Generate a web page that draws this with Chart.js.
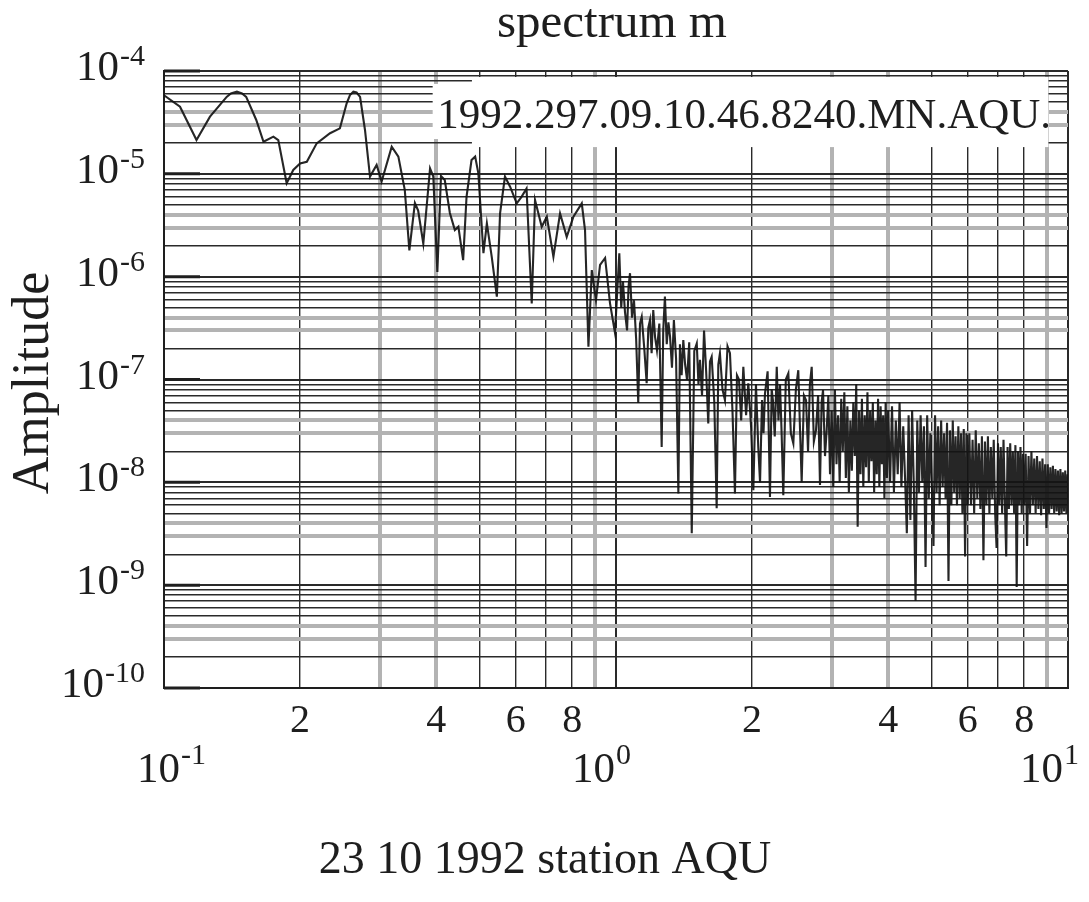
<!DOCTYPE html>
<html>
<head>
<meta charset="utf-8">
<title>spectrum m</title>
<script src="https://cdn.jsdelivr.net/npm/chart.js@4"></script>
<style>
  html, body { margin: 0; padding: 0; background: #fff; }
  canvas { display: block; }
</style>
</head>
<body>
<canvas id="chart" width="1089" height="902"></canvas>
<script>
'use strict';

// spectrum of the AQU record, 23 Oct 1992: frequency (Hz) and amplitude
let freqHz = [
  0.1, 0.1085, 0.118, 0.1264, 0.1376, 0.1406, 0.145, 0.1488, 0.152, 0.160, 0.166, 0.1746, 0.179,
  0.1868, 0.1932, 0.2, 0.207, 0.2177, 0.233, 0.245, 0.2536, 0.2579, 0.2624, 0.2667, 0.2715,
  0.2784, 0.2856, 0.2954, 0.303, 0.319, 0.33, 0.341, 0.349, 0.359, 0.365, 0.3747, 0.3878,
  0.3943, 0.4025, 0.41, 0.418, 0.429, 0.440, 0.448, 0.459, 0.467, 0.479, 0.488, 0.496,
  0.509, 0.518, 0.531, 0.545, 0.554, 0.568, 0.583, 0.603, 0.618, 0.634, 0.651, 0.662,
  0.685, 0.703, 0.727, 0.752, 0.778, 0.805, 0.840, 0.854, 0.869, 0.884, 0.903, 0.922,
  0.946, 0.970, 0.995,
  1.017, 1.027, 1.036, 1.047, 1.058, 1.066, 1.074, 1.085, 1.096, 1.108, 1.12, 1.13, 1.14,
  1.155, 1.169, 1.179, 1.189, 1.199, 1.209, 1.22, 1.232, 1.247, 1.262, 1.272, 1.283, 1.295,
  1.306, 1.317, 1.33, 1.343, 1.358, 1.374, 1.385, 1.397, 1.409, 1.422, 1.436, 1.452, 1.471,
  1.49, 1.509, 1.522, 1.534, 1.55, 1.566, 1.583, 1.60, 1.614, 1.628, 1.65, 1.670, 1.684,
  1.698, 1.72, 1.742, 1.765, 1.787, 1.81, 1.833, 1.852, 1.871, 1.892, 1.913, 1.94, 1.962,
  1.99, 2.013, 2.04, 2.064, 2.083, 2.104, 2.12, 2.136, 2.165, 2.191, 2.21, 2.224, 2.245,
  2.268, 2.288, 2.306, 2.325, 2.345, 2.375, 2.406, 2.437, 2.468, 2.5, 2.531, 2.555, 2.575,
  2.605, 2.633, 2.66, 2.685, 2.71, 2.74, 2.77, 2.80, 2.827, 2.85, 2.871, 2.9, 2.925,
  2.95, 2.975, 3.0, 3.025, 3.05, 3.075, 3.1, 3.125, 3.15, 3.175, 3.2, 3.225, 3.25, 3.275,
  3.3, 3.325, 3.35, 3.375, 3.4, 3.425, 3.45, 3.475, 3.5, 3.525, 3.55, 3.575, 3.6, 3.625,
  3.65, 3.675, 3.7, 3.725, 3.75, 3.775, 3.8, 3.825, 3.85, 3.875, 3.9, 3.925, 3.95, 3.975, 4.0,
  4.04, 4.08, 4.12, 4.16, 4.2, 4.24, 4.28, 4.32, 4.36, 4.4, 4.44, 4.48, 4.52, 4.56, 4.6,
  4.64, 4.68, 4.72, 4.76, 4.8, 4.84, 4.88, 4.92, 4.96, 5.0, 5.04, 5.08, 5.12, 5.16, 5.2,
  5.24, 5.28, 5.32, 5.36, 5.4, 5.44, 5.48, 5.52, 5.56, 5.6, 5.64, 5.68, 5.72, 5.76, 5.8,
  5.84, 5.88, 5.92, 5.96, 6.0,
  6.05, 6.1, 6.15, 6.2, 6.25, 6.3, 6.35, 6.4, 6.45, 6.5, 6.55, 6.6, 6.65, 6.7, 6.75, 6.8,
  6.85, 6.9, 6.95, 7.0, 7.05, 7.1, 7.15, 7.2, 7.25, 7.3, 7.35, 7.4, 7.45, 7.5, 7.55, 7.6,
  7.65, 7.7, 7.75, 7.8, 7.85, 7.9, 7.95, 8.0,
  8.06, 8.12, 8.18, 8.24, 8.3, 8.36, 8.42, 8.48, 8.54, 8.6, 8.66, 8.72, 8.78, 8.84, 8.9,
  8.96, 9.02, 9.08, 9.14, 9.2, 9.26, 9.32, 9.38, 9.44, 9.5, 9.56, 9.62, 9.68, 9.74, 9.8,
  9.86, 9.92, 9.98, 10.0
];

let amplitude = [
  5.8e-5, 4.5e-5, 2.13e-5, 3.6e-5, 5.6e-5, 6.04e-5, 6.3e-5, 6.04e-5, 5.6e-5, 3.34e-5, 2.05e-5, 2.3e-5, 2.13e-5,
  8.1e-6, 1.09e-5, 1.26e-5, 1.31e-5, 1.98e-5, 2.48e-5, 2.77e-5, 4.85e-5, 5.84e-5, 6.3e-5, 6.18e-5, 5.6e-5,
  2.67e-5, 9.4e-6, 1.22e-5, 8.4e-6, 1.84e-5, 1.47e-5, 6.95e-6, 1.8e-6, 5.2e-6, 4.4e-6, 2.1e-6, 1.13e-5,
  9.4e-6, 1.11e-6, 9.5e-6, 8.7e-6, 4.16e-6, 2.84e-6, 3.06e-6, 1.45e-6, 5.98e-6, 1.36e-5, 1.47e-5, 1.01e-5,
  1.69e-6, 3.3e-6, 1.56e-6, 6.4e-7, 4.13e-6, 9.4e-6, 7.5e-6, 5.16e-6, 5.98e-6, 7.2e-6, 5.5e-7, 5.56e-6,
  3.06e-6, 3.83e-6, 1.56e-6, 4.13e-6, 2.44e-6, 3.83e-6, 5.16e-6, 2.84e-6, 2.08e-7, 1.16e-6, 5.9e-7, 1.3e-6,
  1.52e-6, 5.5e-7, 2.83e-7,
  1.69e-6, 5e-7, 9e-7, 4.5e-7, 3.0e-7, 8e-7, 1.08e-6, 4e-7, 5.9e-7, 2.5e-7, 5.9e-8, 3.5e-7, 4.07e-7,
  2e-7, 9.2e-8, 3.2e-7, 3.78e-7, 1.8e-7, 4.73e-7, 2.6e-7, 1.93e-7, 3.5e-7, 2.21e-8, 3e-7, 6.4e-7, 2.2e-7,
  3.6e-7, 2.6e-7, 1.3e-7, 3.78e-7, 1.6e-7, 7.8e-9, 2.2e-7, 1.1e-7, 2.42e-7, 1.4e-7, 9.9e-8, 2.3e-7, 3.2e-9,
  1.9e-7, 2.24e-7, 9e-8, 1.55e-7, 7e-8, 3.0e-7, 1.2e-7, 3.74e-8, 1.5e-7, 1.66e-7, 6e-8, 5.6e-9, 1.4e-7,
  1.8e-7, 8e-8, 6.3e-8, 2.1e-7, 1.8e-7, 5e-8, 7.8e-9, 1.1e-7, 1.0e-7, 4e-8, 1.33e-7, 4.5e-8, 9.2e-8,
  3.5e-8, 8.4e-9, 9e-8, 2.21e-8, 1.0e-8, 6.3e-8, 3e-8, 7.3e-8, 1.2e-7, 7.2e-9, 8e-8, 6.3e-8, 2.8e-8,
  1.33e-7, 4e-8, 9e-8, 3e-8, 7.5e-9, 1e-7, 1.15e-7, 3e-8, 2.39e-8, 8e-8, 1.23e-7, 3e-8, 1.0e-8,
  7e-8, 6.3e-8, 2e-8, 9e-8, 1.33e-7, 2.5e-8, 3.22e-8, 7e-8, 9.4e-9, 6e-8, 7.9e-8, 1.8e-8, 3.22e-8,
  7e-8, 1.2e-8, 5e-8, 9e-9, 8e-8, 1.5e-8, 4.5e-8, 1e-8, 6.5e-8, 2e-8, 7.5e-8, 1.1e-8, 5.5e-8, 8e-9,
  4e-8, 1.3e-8, 6e-8, 1.8e-8, 9e-8, 3.7e-9, 5e-8, 1.2e-8, 6.5e-8, 9e-9, 4.5e-8, 1.4e-8, 7.5e-8, 1e-8,
  5e-8, 1.6e-8, 6e-8, 8e-9, 4e-8, 1.2e-8, 6.5e-8, 9e-9, 5.5e-8, 1.5e-8, 4.5e-8, 7e-9, 6e-8, 1.1e-8, 5e-8,
  1e-8, 5.5e-8, 8e-9, 4e-8, 1.2e-8, 6e-8, 9e-9, 3.5e-8, 1.1e-8, 3.2e-9, 4.5e-8, 4.3e-9, 5e-8, 9e-9, 7e-10,
  4e-8, 8e-9, 4.5e-8, 1e-8, 3.5e-8, 1.5e-9, 4.5e-8, 7e-9, 3e-8, 9e-9, 2.4e-9, 4.5e-8, 8e-9, 3.5e-8, 6e-9,
  4e-8, 9e-9, 3e-8, 7e-9, 3.8e-8, 1.1e-9, 3.2e-8, 6e-9, 4e-8, 8e-9, 2.8e-8, 6e-9, 3.5e-8, 7e-9, 3e-8,
  5e-9, 3.3e-8, 1.9e-9, 3e-8, 6e-9,
  3e-8, 6e-9, 2.6e-8, 5e-9, 3.2e-8, 7e-9, 2.4e-8, 5.5e-9, 2.8e-8, 1.75e-9, 2.5e-8, 6e-9, 2.8e-8, 5e-9, 2.2e-8, 7e-9,
  2.6e-8, 5e-9, 2.3e-9, 2.4e-8, 6e-9, 2.2e-8, 5e-9, 2.6e-8, 6.5e-9, 1.9e-9, 2.2e-8, 5.5e-9, 2.4e-8, 6e-9, 2e-8, 5e-9,
  2.3e-8, 9.6e-10, 2e-8, 6e-9, 2.2e-8, 5e-9, 1.9e-8, 6e-9,
  1.9e-8, 2.4e-9, 1.8e-8, 5e-9, 2e-8, 6e-9, 1.7e-8, 5e-9, 1.8e-8, 5.5e-9, 1.6e-8, 4.8e-9, 1.7e-8, 5.5e-9, 1.5e-8,
  3.6e-9, 1.5e-8, 5e-9, 1.4e-8, 5.5e-9, 1.45e-8, 5e-9, 1.35e-8, 5.2e-9, 1.3e-8, 4.8e-9, 1.35e-8, 5e-9, 1.25e-8, 5.2e-9,
  1.3e-8, 5e-9, 1.2e-8, 7e-9
];

// axis ranges and log grid layout
let xMin = 0.1, xMax = 10;
let yMin = 1e-10, yMax = 1e-4;
let mantissas = [1, 2, 3, 4, 5, 6, 7, 8, 9];
let xGrayMantissas = [3, 4, 9];
let yGrayMantissas = [3, 4];
let xMinorLabels = [2, 4, 6, 8];
let xDecadeExps = [-1, 0, 1];
let yDecadeExps = [-4, -5, -6, -7, -8, -9, -10];

let titleText = 'spectrum m';
let yTitleText = 'Amplitude';
let footerText = '23 10 1992 station AQU';
let traceText = '1992.297.09.10.46.8240.MN.AQU.';

let serif = '"Liberation Serif", "Times New Roman", serif';
let ink = '#1e1e1e';

function logTicks(lo, hi) {
  let minExp = Math.round(Math.log10(lo));
  let maxExp = Math.round(Math.log10(hi));
  let ticks = [];
  for (let e = minExp; e < maxExp; e++) {
    mantissas.forEach(m => ticks.push({ value: m * Math.pow(10, e) }));
  }
  ticks.push({ value: Math.pow(10, maxExp) });
  return ticks;
}

function mantissaOf(v) {
  let e = Math.floor(Math.log10(v) + 1e-9);
  return Math.round(v / Math.pow(10, e));
}

function gridColor(ctx, grays) {
  if (!ctx.tick) return ink;
  return grays.includes(mantissaOf(ctx.tick.value)) ? '#b3b3b3' : '#2a2a2a';
}

function gridWidth(ctx, grays) {
  if (!ctx.tick) return 1;
  let m = mantissaOf(ctx.tick.value);
  if (grays.includes(m)) return 4;
  return m === 1 ? 2 : 1.4;
}

let points = freqHz.map((f, i) => ({ x: f, y: amplitude[i] }));

// text, label box and decade stubs drawn over the grid
let decorPlugin = {
  id: 'decor',
  beforeDatasetsDraw(chart) {
    let c = chart.ctx;
    let xs = chart.scales.x, ys = chart.scales.y;
    let area = chart.chartArea;
    c.save();

    // heavier stub on each decade line at the left edge
    c.strokeStyle = ink;
    c.lineWidth = 3;
    yDecadeExps.forEach(e => {
      let py = ys.getPixelForValue(Math.pow(10, e));
      c.beginPath();
      c.moveTo(area.left, py);
      c.lineTo(area.left + 36, py);
      c.stroke();
    });

    // white box behind the trace id
    c.fillStyle = '#fff';
    let bx0 = xs.getPixelForValue(0.48), bx1 = xs.getPixelForValue(9.05);
    let by0 = ys.getPixelForValue(8.74e-5), by1 = ys.getPixelForValue(1.82e-5);
    c.fillRect(bx0, by0, bx1 - bx0, by1 - by0);
    let cx0 = xs.getPixelForValue(0.393);
    let cy0 = ys.getPixelForValue(7.48e-5), cy1 = ys.getPixelForValue(2.18e-5);
    c.fillRect(cx0, cy0, bx0 - cx0 + 1, cy1 - cy0);

    c.fillStyle = ink;
    c.font = '43px ' + serif;
    c.textAlign = 'left';
    c.textBaseline = 'alphabetic';
    c.fillText(traceText, xs.getPixelForValue(0.4) + 1, area.top + 57);
    c.restore();
  },
  afterDraw(chart) {
    let c = chart.ctx;
    let xs = chart.scales.x, ys = chart.scales.y;
    let area = chart.chartArea;
    c.save();
    c.fillStyle = ink;
    c.textBaseline = 'alphabetic';

    // y decade labels, 10 with a raised exponent
    yDecadeExps.forEach(e => {
      let py = ys.getPixelForValue(Math.pow(10, e));
      let right = area.left - 19;
      c.font = '30px ' + serif;
      let sup = String(e);
      let supW = c.measureText(sup).width;
      c.textAlign = 'right';
      c.fillText(sup, right, py - 6);
      c.font = '43px ' + serif;
      c.fillText('10', right - supW - 1, py + 9);
    });

    // x minor labels
    c.font = '40px ' + serif;
    c.textAlign = 'center';
    xDecadeExps.slice(0, -1).forEach(e => {
      xMinorLabels.forEach(m => {
        let v = m * Math.pow(10, e);
        c.fillText(String(m), xs.getPixelForValue(v), area.bottom + 44);
      });
    });

    // x decade labels
    let shifts = [-27, -44, -48];
    xDecadeExps.forEach((e, i) => {
      let px = xs.getPixelForValue(Math.pow(10, e)) + shifts[i];
      c.textAlign = 'left';
      c.font = '43px ' + serif;
      c.fillText('10', px, area.bottom + 94);
      let w = c.measureText('10').width;
      c.font = '30px ' + serif;
      c.fillText(String(e), px + w + 1, area.bottom + 76);
    });

    // title, y axis title and footer
    c.textAlign = 'center';
    c.font = '49px ' + serif;
    c.fillText(titleText, 612, 37);
    c.font = '46px ' + serif;
    c.fillText(footerText, 545, 873);
    c.save();
    c.translate(48, 383);
    c.rotate(-Math.PI / 2);
    c.font = '52px ' + serif;
    c.fillText(yTitleText, 0, 0);
    c.restore();

    c.restore();
  }
};

function renderChart() {
  let canvasElem = document.getElementById('chart');

  let chartConfig = {
    type: 'line',
    data: {
      datasets: [{
        data: points,
        borderColor: 'rgba(20,20,20,0.92)',
        borderWidth: 2.1,
        pointRadius: 0,
        tension: 0,
        fill: false
      }]
    },
    options: {
      responsive: false,
      animation: false,
      events: [],
      layout: { padding: { left: 164, right: 21, top: 71, bottom: 214 } },
      plugins: { legend: { display: false }, tooltip: { enabled: false } },
      scales: {
        x: {
          type: 'logarithmic',
          min: xMin,
          max: xMax,
          afterBuildTicks: scale => { scale.ticks = logTicks(xMin, xMax); },
          afterFit: scale => { scale.height = 0; },
          ticks: { display: false },
          border: { display: true, color: ink, width: 2 },
          grid: {
            drawTicks: false,
            color: ctx => gridColor(ctx, xGrayMantissas),
            lineWidth: ctx => gridWidth(ctx, xGrayMantissas)
          }
        },
        y: {
          type: 'logarithmic',
          min: yMin,
          max: yMax,
          afterBuildTicks: scale => { scale.ticks = logTicks(yMin, yMax); },
          afterFit: scale => { scale.width = 0; },
          ticks: { display: false },
          border: { display: true, color: ink, width: 2 },
          grid: {
            drawTicks: false,
            color: ctx => gridColor(ctx, yGrayMantissas),
            lineWidth: ctx => gridWidth(ctx, yGrayMantissas)
          }
        }
      }
    },
    plugins: [decorPlugin]
  };

  new Chart(canvasElem, chartConfig);
}

renderChart();
</script>
</body>
</html>
